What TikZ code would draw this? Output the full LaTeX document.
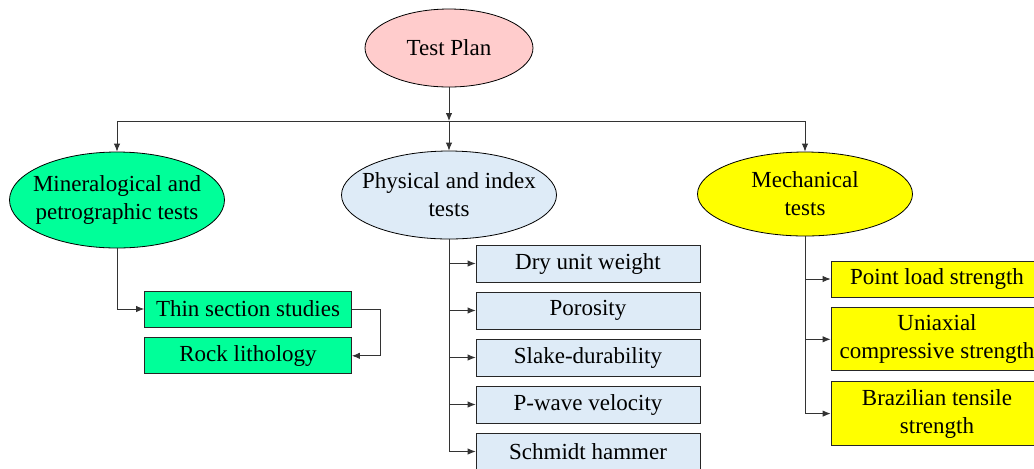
\documentclass[tikz,border=0pt]{standalone}
\usepackage{fontspec}
\setmainfont{Liberation Serif}
\usetikzlibrary{shapes.geometric, arrows.meta, positioning}
\definecolor{planpink}{RGB}{255,204,204}
\definecolor{minegreen}{RGB}{0,255,153}
\definecolor{physblue}{RGB}{222,235,247}
\definecolor{mechyellow}{RGB}{255,255,0}
\tikzset{
    topic/.style = {ellipse, draw, inner xsep=-6pt, inner ysep=0pt, align=center, minimum width=107.5pt},
    testbox/.style = {rectangle, draw=black!85, align=center, minimum height=18pt},
    conn/.style = {draw=black!80, -{Latex[length=4pt,width=3.2pt]}},
    link/.style = {draw=black!80}
}
\begin{document}
\begin{tikzpicture}[
        x=0.5pt, y=-0.5pt,
        font=\fontsize{11.5}{14}\selectfont,
        node distance=5pt,
        % STYLES
        minebox/.style = {testbox, fill=minegreen, minimum width=103.5pt},
        physbox/.style = {testbox, fill=physblue, minimum width=112pt, minimum height=18.5pt},
        mechbox/.style = {testbox, fill=mechyellow, minimum width=106pt}
    ]
    \useasboundingbox (0,0) rectangle (1034,468);
    % --- NODES ---
    % Root
    \node [topic, fill=planpink, minimum width=84pt, minimum height=39pt] (plan) at (449,48) {Test Plan};
    \coordinate (bus) at (449,121);

    % Test groups
    \node [topic, fill=minegreen, minimum height=48pt] (mineral) at (117,200) {Mineralogical and\\petrographic tests};
    \node [topic, fill=physblue, minimum height=44pt] (physical) at (449,195) {Physical and index\\tests};
    \node [topic, fill=mechyellow, minimum height=42pt] (mech) at (805,194) {Mechanical\\tests};

    % Mineralogical tests
    \node [minebox] (thin) at (248,309) {Thin section studies};
    \node [minebox, below=of thin] (rock) {Rock lithology};

    % Physical and index tests
    \node [physbox] (dry) at (588,263.5) {Dry unit weight};
    \node [physbox, below=4.6pt of dry] (poro) {Porosity};
    \node [physbox, below=4.6pt of poro] (slake) {Slake-durability};
    \node [physbox, below=4.6pt of slake] (pwave) {P-wave velocity};
    \node [physbox, below=4.6pt of pwave] (schmidt) {Schmidt hammer};

    % Mechanical tests
    \node [mechbox] (pls) at (937,279) {Point load strength};
    \node [mechbox, minimum height=31.5pt, below=of pls] (ucs) {Uniaxial\\compressive strength};
    \node [mechbox, minimum height=32pt, below=of ucs] (bts) {Brazilian tensile\\strength};

    % --- PATHS ---
    \path [conn] (plan) -- (bus);
    \path [link] (bus -| mineral) -- (bus -| mech);
    \path [conn] (bus -| mineral) -- (mineral);
    \path [conn] (bus) -- (physical);
    \path [conn] (bus -| mech) -- (mech);

    \path [conn] (mineral.south) |- (thin.west);
    \path [conn] (thin.east) -- ++(28,0) |- (rock.east);

    \foreach \b in {dry, poro, slake, pwave, schmidt}
        \path [conn] (physical.south) |- (\b.west);

    \foreach \b in {pls, ucs, bts}
        \path [conn] (mech.south) |- (\b.west);

\end{tikzpicture}
\end{document}
